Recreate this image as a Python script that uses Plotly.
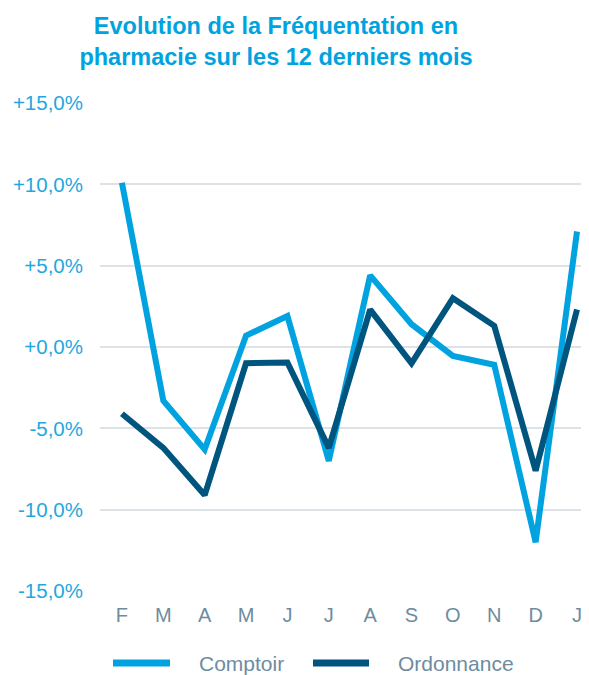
import plotly.graph_objects as go

months = ["F", "M", "A", "M", "J", "J", "A", "S", "O", "N", "D", "J"]
comptoir = [10.1, -3.3, -6.3, 0.7, 1.9, -7.0, 4.4, 1.4, -0.55, -1.1, -12.0, 7.1]
ordonnance = [-4.1, -6.2, -9.1, -1.0, -0.95, -6.2, 2.3, -1.0, 3.0, 1.3, -7.6, 2.3]
series_names = ["Comptoir", "Ordonnance"]
series_colors = ["#00A3E0", "#00557F"]
y_tickvals = [15, 10, 5, 0, -5, -10, -15]
y_ticktext = ["+15,0%", "+10,0%", "+5,0%", "+0,0%", "-5,0%", "-10,0%", "-15,0%"]

x_idx = list(range(len(months)))

W, H = 581, 667  # page body has an 8px margin
L, T, B = 92, 95, 583  # plot area left / top / bottom in figure px
PW, PH = W - L, B - T


def px(fx):
    return (fx - L) / PW


def py(fy):
    return (B - fy) / PH


fig = go.Figure()
for name, vals, col in zip(series_names, [comptoir, ordonnance], series_colors):
    fig.add_trace(go.Scatter(x=x_idx, y=vals, name=name, mode="lines",
                             line=dict(color=col, width=6), showlegend=False))

# custom legend (line sample + label)
legend_items = [(105, 162, 189), (305, 361, 388)]
ly = 655
for (x0, x1, tx), name, col in zip(legend_items, series_names, series_colors):
    fig.add_shape(type="line", xref="paper", yref="paper",
                  x0=px(x0), x1=px(x1), y0=py(ly), y1=py(ly),
                  line=dict(color=col, width=7))
    fig.add_annotation(xref="paper", yref="paper", x=px(tx), y=py(ly),
                       text=name, showarrow=False, xanchor="left", yanchor="middle",
                       font=dict(size=21, color="#6E8CA0"))

fig.update_layout(
    width=W, height=H,
    margin=dict(l=L, r=0, t=T, b=H - B),
    paper_bgcolor="white", plot_bgcolor="white",
    font=dict(family="Liberation Sans, Arial, sans-serif"),
    title=dict(text="<b>Evolution de la Fréquentation en<br>pharmacie sur les 12 derniers mois</b>",
               x=268/W, xref="container", xanchor="center",
               y=1 - 26/H, yanchor="top",
               font=dict(size=23.5, color="#00A3E0")),
    xaxis=dict(tickmode="array", tickvals=x_idx, ticktext=months,
               range=[-0.53, 11.29], showgrid=False, zeroline=False, showline=False,
               tickfont=dict(size=20, color="#6E8CA0"), ticks="", ticklabelstandoff=10),
    yaxis=dict(tickmode="array", tickvals=y_tickvals, ticktext=y_ticktext,
               range=[-15, 15], showgrid=True, gridcolor="#DDE2E6", gridwidth=2,
               zeroline=False, showline=False,
               tickfont=dict(size=20.5, color="#1FA8E0"), ticks="", ticklabelstandoff=16),
    showlegend=False,
)

fig.write_html("out.html")
